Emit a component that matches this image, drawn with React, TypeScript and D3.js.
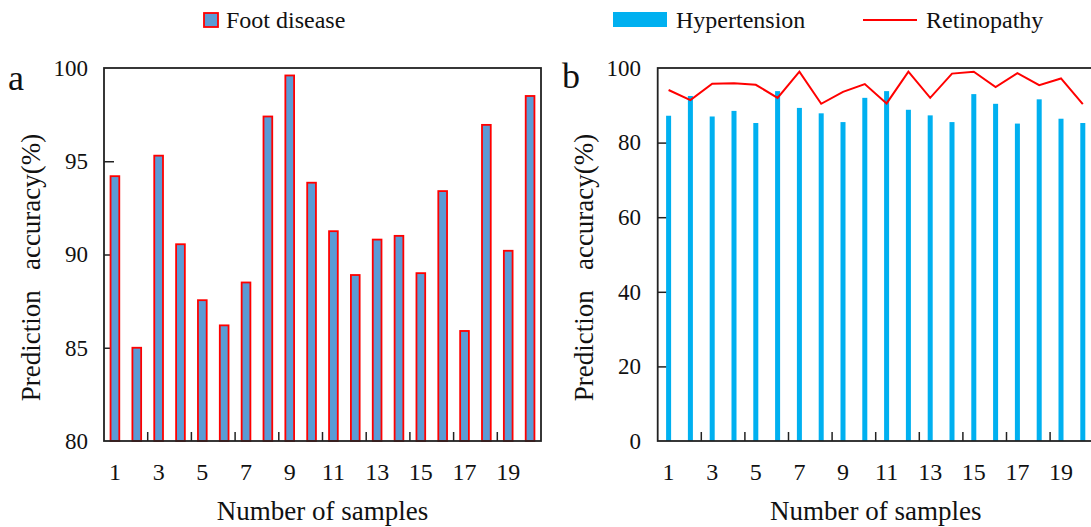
import React, { useEffect, useRef } from 'react';
import * as d3 from 'd3';

const samples = d3.range(1, 21);
const footDisease = [94.2, 85.0, 95.3, 90.55, 87.55, 86.2, 88.5, 97.4, 99.6, 93.85, 91.25, 88.9, 90.8, 91.0, 89.0, 93.4, 85.9, 96.95, 90.2, 98.5];
const hypertension = [87.2, 92.5, 87.0, 88.5, 85.25, 93.8, 89.3, 87.85, 85.5, 92.0, 93.8, 88.8, 87.3, 85.5, 93.0, 90.4, 85.1, 91.6, 86.4, 85.25];
const retinopathy = [94.1, 91.4, 95.8, 95.9, 95.5, 92.0, 99.0, 90.4, 93.6, 95.7, 90.5, 99.0, 92.0, 98.5, 99.0, 94.9, 98.6, 95.4, 97.2, 90.3];
const leftTicks = [80, 85, 90, 95, 100];
const rightTicks = [0, 20, 40, 60, 80, 100];
const xLabels = [1, 3, 5, 7, 9, 11, 13, 15, 17, 19];

const FONT = "'Liberation Serif', 'Times New Roman', serif";
const W = 1091;
const H = 527;

const App = () => {
  const svgRef = useRef<SVGSVGElement>(null);

  useEffect(() => {
    const svg = d3.select(svgRef.current);
    svg.selectAll('*').remove();

    const top = 68;
    const bottom = 441;

    const drawPanel = (opts) => {
      const { x0, x1, yDomain, ticks, letter, letterX, letterY, labelX, innerPad } = opts;
      const g = svg.append('g');

      const x = d3
        .scaleBand()
        .domain(samples.map(String))
        .range([x0, x1])
        .paddingInner(innerPad)
        .paddingOuter(innerPad / 2);
      const edge = d3.scaleLinear().domain([0, samples.length]).range([x0, x1]);
      const y = d3.scaleLinear().domain(yDomain).range([bottom, top]);

      // inward y ticks, labels drawn separately
      const axis = g
        .append('g')
        .attr('transform', `translate(${x0},0)`)
        .call(d3.axisLeft(y).tickValues(ticks).tickSizeInner(-10).tickSizeOuter(0).tickFormat(() => ''));
      axis.select('.domain').remove();
      axis.selectAll('line').attr('stroke', '#222').attr('stroke-width', 1.5);

      // x ticks at every second boundary
      g.selectAll('line.xt')
        .data(d3.range(2, samples.length, 2))
        .join('line')
        .attr('x1', (d) => edge(d))
        .attr('x2', (d) => edge(d))
        .attr('y1', bottom)
        .attr('y2', bottom - 9)
        .attr('stroke', '#222')
        .attr('stroke-width', 1.5);

      g.selectAll('text.xl')
        .data(xLabels)
        .join('text')
        .attr('x', (d) => x(String(d)) + x.bandwidth() / 2)
        .attr('y', 480)
        .attr('text-anchor', 'middle')
        .style('font-family', FONT)
        .style('font-size', '24px')
        .attr('fill', '#111')
        .text((d) => d);

      g.append('text')
        .attr('x', (x0 + x1) / 2)
        .attr('y', 520)
        .attr('text-anchor', 'middle')
        .style('font-family', FONT)
        .style('font-size', '27px')
        .attr('fill', '#111')
        .text('Number of samples');

      g.append('text')
        .attr('transform', `translate(${labelX},${(top + bottom) / 2 + 13}) rotate(-90)`)
        .attr('text-anchor', 'middle')
        .style('font-family', FONT)
        .style('font-size', '27px')
        .attr('fill', '#111')
        .style('white-space', 'pre')
        .text('Prediction   accuracy(%)');

      g.append('text')
        .attr('x', letterX)
        .attr('y', letterY)
        .style('font-family', FONT)
        .style('font-size', '36px')
        .attr('fill', '#111')
        .text(letter);

      return { g, x, y };
    };

    const yTickLabels = (p, values, right) => {
      p.g.selectAll('text.tl')
        .data(values)
        .join('text')
        .attr('x', right)
        .attr('y', (d) => p.y(d))
        .attr('dy', '0.34em')
        .attr('text-anchor', 'end')
        .style('font-family', FONT)
        .style('font-size', '23px')
        .attr('fill', '#111')
        .text((d) => d);
    };

    // panel a
    const a = drawPanel({
      x0: 104, x1: 541, yDomain: [80, 100], ticks: [85, 90, 95],
      letter: 'a', letterX: 8, letterY: 90, labelX: 40, innerPad: 0.6,
    });
    a.g.selectAll('rect.bar')
      .data(footDisease)
      .join('rect')
      .attr('x', (d, i) => a.x(String(samples[i])))
      .attr('y', (d) => a.y(d))
      .attr('width', a.x.bandwidth())
      .attr('height', (d) => bottom - a.y(d))
      .attr('fill', '#5B9BD5')
      .attr('stroke', '#FF0000')
      .attr('stroke-width', 1.8);
    yTickLabels(a, leftTicks, 88);
    a.g.append('rect')
      .attr('x', 104).attr('y', top).attr('width', 541 - 104).attr('height', bottom - top)
      .attr('fill', 'none').attr('stroke', '#222').attr('stroke-width', 1.8);

    // panel b
    const b = drawPanel({
      x0: 657.7, x1: 1093.7, yDomain: [0, 100], ticks: [20, 40, 60, 80],
      letter: 'b', letterX: 562, letterY: 88, labelX: 593, innerPad: 0.77,
    });
    b.g.selectAll('rect.bar')
      .data(hypertension)
      .join('rect')
      .attr('x', (d, i) => b.x(String(samples[i])))
      .attr('y', (d) => b.y(d))
      .attr('width', b.x.bandwidth())
      .attr('height', (d) => bottom - b.y(d))
      .attr('fill', '#00B0F0');
    const line = d3
      .line<number>()
      .x((d, i) => b.x(String(samples[i])) + b.x.bandwidth() / 2)
      .y((d) => b.y(d));
    b.g.append('path')
      .datum(retinopathy)
      .attr('d', line)
      .attr('fill', 'none')
      .attr('stroke', '#FF0000')
      .attr('stroke-width', 2);
    yTickLabels(b, rightTicks, 641);
    b.g.append('rect')
      .attr('x', 657.7).attr('y', top).attr('width', 436).attr('height', bottom - top)
      .attr('fill', 'none').attr('stroke', '#222').attr('stroke-width', 1.8);

    // legend
    const lg = svg.append('g');
    const legendText = (x, label) =>
      lg.append('text')
        .attr('x', x)
        .attr('y', 28)
        .style('font-family', FONT)
        .style('font-size', '24px')
        .attr('fill', '#111')
        .text(label);
    lg.append('rect').attr('x', 204).attr('y', 13).attr('width', 14).attr('height', 14)
      .attr('fill', '#5B9BD5').attr('stroke', '#FF0000').attr('stroke-width', 1.8);
    legendText(226, 'Foot disease');
    lg.append('rect').attr('x', 613).attr('y', 12).attr('width', 54).attr('height', 15).attr('fill', '#00B0F0');
    legendText(676, 'Hypertension');
    lg.append('line').attr('x1', 863).attr('x2', 917).attr('y1', 20).attr('y2', 20)
      .attr('stroke', '#FF0000').attr('stroke-width', 2);
    legendText(926, 'Retinopathy');
  }, []);

  return (
    <svg
      ref={svgRef}
      width={W}
      height={H}
      style={{ position: 'absolute', left: 0, top: 0, background: '#fff' }}
    />
  );
};

export default App;
